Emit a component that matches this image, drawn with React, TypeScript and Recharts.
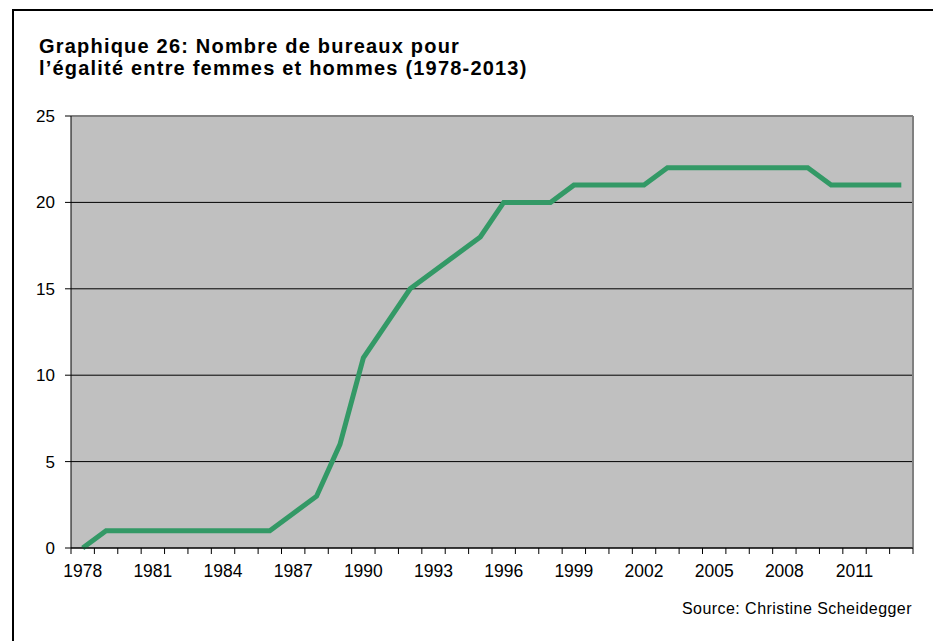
import { LineChart, Line, XAxis, YAxis, CartesianGrid, ReferenceLine } from "recharts";

const years = [
  1978, 1979, 1980, 1981, 1982, 1983, 1984, 1985, 1986, 1987, 1988, 1989,
  1990, 1991, 1992, 1993, 1994, 1995, 1996, 1997, 1998, 1999, 2000, 2001,
  2002, 2003, 2004, 2005, 2006, 2007, 2008, 2009, 2010, 2011, 2012, 2013,
];
const bureaux = [
  0, 1, 1, 1, 1, 1, 1, 1, 1, 2, 3, 6,
  11, 13, 15, 16, 17, 18, 20, 20, 20, 21, 21, 21,
  21, 22, 22, 22, 22, 22, 22, 22, 21, 21, 21, 21,
];
const yTicks = [0, 5, 10, 15, 20, 25];
const labelYears = [1978, 1981, 1984, 1987, 1990, 1993, 1996, 1999, 2002, 2005, 2008, 2011];

const data = years.map((y, i) => ({ year: y, value: bureaux[i] }));
// tick marks sit between categories, like an Excel category axis
const edges = [...years.map((y) => y - 0.5), years[years.length - 1] + 0.5];

const W = 933;
const H = 641;
const PLOT_L = 71;
const PLOT_R = 913;
const PLOT_B = 548;
const half = (PLOT_R - PLOT_L) / years.length / 2;
const font = "'Liberation Sans', Arial, sans-serif";

const XTick = (props: any) => {
  const { x, payload } = props;
  const cat = payload.value + 0.5;
  return (
    <g>
      <line x1={x} x2={x} y1={PLOT_B} y2={PLOT_B + 6} stroke="#000" />
      {labelYears.includes(cat) && (
        <text x={x + half} y={PLOT_B + 29} textAnchor="middle" fontSize={17.5} fontFamily={font} fill="#000">
          {cat}
        </text>
      )}
    </g>
  );
};

export default function App() {
  return (
    <div style={{ position: "absolute", left: 0, top: 0, width: W, height: H, background: "#fff", overflow: "hidden" }}>
      <div style={{ position: "absolute", left: 12, top: 9, width: W, height: H, borderLeft: "2px solid #000", borderTop: "2px solid #000" }} />
      <div style={{ position: "absolute", left: 39, top: 35, fontFamily: font, fontWeight: "bold", fontSize: 20, letterSpacing: 1.2, lineHeight: "22px", color: "#000", whiteSpace: "nowrap" }}>
        Graphique 26: Nombre de bureaux pour
        <br />
        l’égalité entre femmes et hommes (1978-2013)
      </div>
      <div style={{ position: "absolute", right: 21, top: 600, fontFamily: font, fontSize: 16, letterSpacing: 0.45, color: "#000", whiteSpace: "nowrap" }}>
        Source: Christine Scheidegger
      </div>
      <div style={{ position: "absolute", left: 0, top: 0 }}>
        <LineChart width={W} height={H} data={data} margin={{ top: 116, right: W - PLOT_R, left: 11, bottom: H - PLOT_B - 30 }}>
          <CartesianGrid vertical={false} fill="#C0C0C0" fillOpacity={1} stroke="#000" strokeOpacity={1} />
          <XAxis
            dataKey="year"
            type="number"
            domain={[edges[0], edges[edges.length - 1]]}
            ticks={edges}
            interval={0}
            tickLine={false}
            tick={<XTick />}
            stroke="#000"
            height={30}
          />
          <YAxis
            domain={[0, 25]}
            ticks={yTicks}
            width={60}
            tickSize={6}
            tickMargin={10}
            stroke="#000"
            tick={{ fontSize: 17, fontFamily: font, fill: "#000" }}
          />
          <ReferenceLine y={25} stroke="#808080" strokeWidth={2} />
          <ReferenceLine x={edges[edges.length - 1]} stroke="#808080" strokeWidth={2} />
          <Line
            dataKey="value"
            stroke="#339966"
            strokeWidth={5}
            dot={false}
            isAnimationActive={false}
          />
        </LineChart>
      </div>
    </div>
  );
}
